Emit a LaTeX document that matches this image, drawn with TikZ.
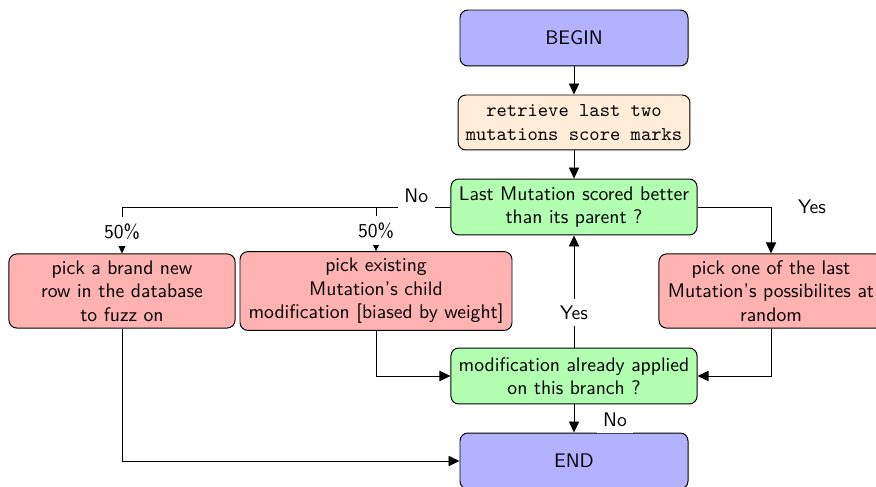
\documentclass[tikz,border=0pt]{standalone}
\usetikzlibrary{arrows.meta}
\definecolor{beginfill}{RGB}{178,178,255}
\definecolor{stepfill}{RGB}{255,236,217}
\definecolor{testfill}{RGB}{178,255,178}
\definecolor{pickfill}{RGB}{255,178,178}
\tikzset{
  box/.style={draw, rounded corners=4pt, font=\sffamily, align=center, line width=0.5pt},
  terminal/.style={box, fill=beginfill, minimum width=116.1pt, minimum height=28.5pt},
  action/.style={box, fill=stepfill, font=\ttfamily, minimum width=118.1pt, minimum height=28pt},
  test/.style={box, fill=testfill, minimum width=125.3pt, minimum height=28.5pt},
  pick/.style={box, fill=pickfill},
  flow/.style={-{Triangle[length=5.6pt,width=5.2pt]}, line width=0.4pt},
  tag/.style={font=\sffamily, fill=white, inner sep=3.33pt},
}
\begin{document}
\begin{tikzpicture}[x=0.5092pt, y=-0.5092pt]
\useasboundingbox (0,0) rectangle (876,487);
\clip (0,0) rectangle (876,487);

% boxes
\node[terminal] (begin) at (574,38) {BEGIN};
\node[action] (retr) at (574,122.5) {retrieve last two\\mutations score marks};
\node[test] (better) at (574,207) {Last Mutation scored better\\than its parent ?};
\node[pick, minimum width=115.1pt] (fresh) at (122,291) {pick a brand new\\row in the database\\to fuzz on};
\node[pick, minimum width=138.5pt] (child) at (376,291) {pick existing\\Mutation's child\\modification [biased by weight]};
\node[pick, minimum width=114.1pt] (last) at (771,291) {pick one of the last\\Mutation's possibilites at\\random};
\node[test] (applied) at (574,376) {modification already applied\\on this branch ?};
\node[terminal] (end) at (574,461) {END};

% connectors
\draw[flow] (begin) -- (retr);
\draw[flow] (retr) -- (better);
\draw[flow] (better.west) -| node[tag, pos=0.766] (halfb) {50\%} (child.north);
\draw[flow] (better.west) -| node[tag, pos=0.766] (halfa) {50\%} (fresh.north)
  node[tag, pos=0.052, yshift=5.6pt] (no1) {No};
\draw[flow] (better.east) -| node[font=\sffamily, pos=0.5, xshift=20.9pt] (yes1) {Yes} (last.north);
\draw[flow] (child.south) |- (applied.west);
\draw[flow] (last.south) |- (applied.east);
\draw[flow] (fresh.south) |- (end.west);
\draw[flow] (applied.north) -- node[tag, pos=0.31] (yes2) {Yes} (better.south);
\draw[flow] (applied.south) -- node[tag, pos=0.55, xshift=20.9pt] (no2) {No} (end.north);
\end{tikzpicture}
\end{document}
